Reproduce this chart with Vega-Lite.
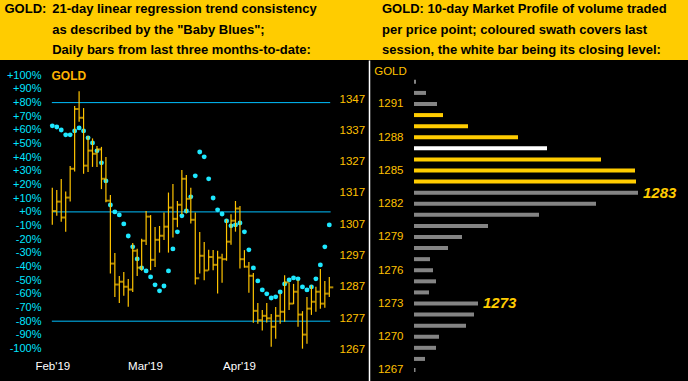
{
  "$schema": "https://vega.github.io/schema/vega-lite/v6.json",
  "width": 688,
  "height": 321,
  "autosize": {"type": "none"},
  "padding": {"top": 60, "left": 0, "right": 0, "bottom": 0},
  "background": "#FFCC00",
  "view": {"fill": "#000000", "stroke": null},
  "config": {
    "axis": {"grid": false, "domain": false, "ticks": false, "tickSize": 0, "labelFont": "Liberation Sans", "titleFont": "Liberation Sans", "labelOverlap": false, "labelFlush": false}
  },
  "datasets": {
    "levels": [
      {"level": 80, "from": -0.1, "to": 62.2},
      {"level": 0, "from": -0.1, "to": 62.3},
      {"level": -80, "from": -0.1, "to": 62.2}
    ],
    "bb": [
      {"idx": 0, "pct": 63}, {"idx": 1, "pct": 62.2}, {"idx": 2, "pct": 60}, {"idx": 3, "pct": 56.4}, {"idx": 4, "pct": 56.4},
      {"idx": 5, "pct": 59.3}, {"idx": 6, "pct": 61.5}, {"idx": 7, "pct": 59.3}, {"idx": 8, "pct": 54.2}, {"idx": 9, "pct": 50.5},
      {"idx": 10, "pct": 44.7}, {"idx": 11, "pct": 35.9}, {"idx": 12, "pct": 22.7}, {"idx": 13, "pct": 5.1}, {"idx": 14, "pct": 0},
      {"idx": 15, "pct": -2.2}, {"idx": 16, "pct": -8.8}, {"idx": 17, "pct": -17.6}, {"idx": 18, "pct": -25.6}, {"idx": 19, "pct": -34.4},
      {"idx": 20, "pct": -41}, {"idx": 21, "pct": -43.2}, {"idx": 22, "pct": -47.6}, {"idx": 23, "pct": -53.4}, {"idx": 24, "pct": -57.8},
      {"idx": 25, "pct": -54.2}, {"idx": 26, "pct": -43.2}, {"idx": 27, "pct": -27.1}, {"idx": 28, "pct": -14.6}, {"idx": 29, "pct": -2.9},
      {"idx": 30, "pct": 0.7}, {"idx": 31, "pct": 11}, {"idx": 32, "pct": 26.4}, {"idx": 33, "pct": 43.9}, {"idx": 34, "pct": 40.3},
      {"idx": 35, "pct": 24.2}, {"idx": 36, "pct": 10.2}, {"idx": 37, "pct": 1.5}, {"idx": 38, "pct": -1.5}, {"idx": 39, "pct": -6.6},
      {"idx": 40, "pct": -10.2}, {"idx": 41, "pct": -9.5}, {"idx": 42, "pct": -8.1}, {"idx": 43, "pct": -14.6}, {"idx": 44, "pct": -27.8},
      {"idx": 45, "pct": -41}, {"idx": 46, "pct": -50.5}, {"idx": 47, "pct": -57.1}, {"idx": 48, "pct": -60}, {"idx": 49, "pct": -63},
      {"idx": 50, "pct": -62.2}, {"idx": 51, "pct": -58.6}, {"idx": 52, "pct": -52.7}, {"idx": 53, "pct": -49.8}, {"idx": 54, "pct": -48.3},
      {"idx": 55, "pct": -49}, {"idx": 56, "pct": -54.9}, {"idx": 57, "pct": -57.1}, {"idx": 58, "pct": -54.9}, {"idx": 59, "pct": -49},
      {"idx": 60, "pct": -38.8}, {"idx": 61, "pct": -25.6}, {"idx": 62, "pct": -9.5}
    ],
    "ohlc": [
      {"idx": 0, "high": 1318.6, "low": 1306.8, "close": 1311.2},
      {"idx": 1, "high": 1317.9, "low": 1309.7, "close": 1314.2},
      {"idx": 2, "high": 1321.4, "low": 1307.8, "close": 1309.1},
      {"idx": 3, "high": 1317.4, "low": 1304.6, "close": 1315.5},
      {"idx": 4, "high": 1325.6, "low": 1314.2, "close": 1324.7},
      {"idx": 5, "high": 1344.8, "low": 1323.8, "close": 1343.8},
      {"idx": 6, "high": 1349.5, "low": 1339.7, "close": 1341.0},
      {"idx": 7, "high": 1344.1, "low": 1323.1, "close": 1325.7},
      {"idx": 8, "high": 1335.2, "low": 1323.7, "close": 1330.5},
      {"idx": 9, "high": 1334.4, "low": 1325.3, "close": 1329.5},
      {"idx": 10, "high": 1332.0, "low": 1325.3, "close": 1330.9},
      {"idx": 11, "high": 1331.7, "low": 1318.2, "close": 1321.5},
      {"idx": 12, "high": 1328.5, "low": 1314.0, "close": 1314.5},
      {"idx": 13, "high": 1316.3, "low": 1291.2, "close": 1294.4},
      {"idx": 14, "high": 1297.8, "low": 1283.7, "close": 1287.7},
      {"idx": 15, "high": 1290.4, "low": 1281.8, "close": 1288.6},
      {"idx": 16, "high": 1291.7, "low": 1284.1, "close": 1287.0},
      {"idx": 17, "high": 1289.5, "low": 1280.6, "close": 1286.1},
      {"idx": 18, "high": 1301.0, "low": 1285.3, "close": 1298.5},
      {"idx": 19, "high": 1299.1, "low": 1290.4, "close": 1293.1},
      {"idx": 20, "high": 1302.3, "low": 1292.1, "close": 1301.7},
      {"idx": 21, "high": 1311.2, "low": 1300.3, "close": 1309.4},
      {"idx": 22, "high": 1309.9, "low": 1292.3, "close": 1295.6},
      {"idx": 23, "high": 1306.1, "low": 1293.3, "close": 1302.0},
      {"idx": 24, "high": 1306.4, "low": 1297.9, "close": 1303.3},
      {"idx": 25, "high": 1310.7, "low": 1301.9, "close": 1306.2},
      {"idx": 26, "high": 1317.1, "low": 1297.9, "close": 1312.3},
      {"idx": 27, "high": 1319.8, "low": 1302.7, "close": 1308.7},
      {"idx": 28, "high": 1314.4, "low": 1306.0, "close": 1313.2},
      {"idx": 29, "high": 1324.3, "low": 1310.1, "close": 1321.5},
      {"idx": 30, "high": 1322.7, "low": 1310.5, "close": 1315.1},
      {"idx": 31, "high": 1318.6, "low": 1307.2, "close": 1308.4},
      {"idx": 32, "high": 1310.7, "low": 1287.7, "close": 1289.7},
      {"idx": 33, "high": 1304.5, "low": 1291.2, "close": 1296.9},
      {"idx": 34, "high": 1301.3, "low": 1289.1, "close": 1292.2},
      {"idx": 35, "high": 1298.8, "low": 1292.2, "close": 1296.5},
      {"idx": 36, "high": 1298.7, "low": 1292.3, "close": 1294.0},
      {"idx": 37, "high": 1298.5, "low": 1284.8, "close": 1296.3},
      {"idx": 38, "high": 1297.5, "low": 1288.3, "close": 1295.8},
      {"idx": 39, "high": 1308.5, "low": 1295.3, "close": 1301.4},
      {"idx": 40, "high": 1310.2, "low": 1300.4, "close": 1308.1},
      {"idx": 41, "high": 1314.4, "low": 1304.6, "close": 1312.0},
      {"idx": 42, "high": 1312.8, "low": 1292.8, "close": 1295.8},
      {"idx": 43, "high": 1298.7, "low": 1293.1, "close": 1293.4},
      {"idx": 44, "high": 1294.9, "low": 1285.1, "close": 1290.5},
      {"idx": 45, "high": 1291.4, "low": 1275.5, "close": 1279.3},
      {"idx": 46, "high": 1281.8, "low": 1275.2, "close": 1276.3},
      {"idx": 47, "high": 1279.6, "low": 1273.0, "close": 1277.7},
      {"idx": 48, "high": 1281.8, "low": 1275.6, "close": 1276.9},
      {"idx": 49, "high": 1278.3, "low": 1267.8, "close": 1274.2},
      {"idx": 50, "high": 1280.5, "low": 1270.4, "close": 1277.7},
      {"idx": 51, "high": 1284.8, "low": 1275.2, "close": 1279.0},
      {"idx": 52, "high": 1290.7, "low": 1275.8, "close": 1288.4},
      {"idx": 53, "high": 1288.3, "low": 1279.6, "close": 1281.6},
      {"idx": 54, "high": 1287.9, "low": 1281.4, "close": 1285.4},
      {"idx": 55, "high": 1289.1, "low": 1274.2, "close": 1278.1},
      {"idx": 56, "high": 1279.2, "low": 1267.2, "close": 1271.7},
      {"idx": 57, "high": 1283.7, "low": 1268.8, "close": 1280.0},
      {"idx": 58, "high": 1287.4, "low": 1278.0, "close": 1282.2},
      {"idx": 59, "high": 1287.0, "low": 1279.0, "close": 1285.4},
      {"idx": 60, "high": 1292.7, "low": 1280.0, "close": 1281.6},
      {"idx": 61, "high": 1288.8, "low": 1280.3, "close": 1284.8},
      {"idx": 62, "high": 1290.1, "low": 1283.7, "close": 1286.8}
    ],
    "profile": [
      {"price": 1293, "vol": 2, "kind": "prior"},
      {"price": 1292, "vol": 12, "kind": "prior"},
      {"price": 1291, "vol": 23, "kind": "prior"},
      {"price": 1290, "vol": 29, "kind": "session"},
      {"price": 1289, "vol": 54, "kind": "session"},
      {"price": 1288, "vol": 104, "kind": "session"},
      {"price": 1287, "vol": 133, "kind": "close"},
      {"price": 1286, "vol": 187, "kind": "session"},
      {"price": 1285, "vol": 221, "kind": "session"},
      {"price": 1284, "vol": 222, "kind": "session"},
      {"price": 1283, "vol": 224, "kind": "prior"},
      {"price": 1282, "vol": 182, "kind": "prior"},
      {"price": 1281, "vol": 125, "kind": "prior"},
      {"price": 1280, "vol": 74, "kind": "prior"},
      {"price": 1279, "vol": 48, "kind": "prior"},
      {"price": 1278, "vol": 34, "kind": "prior"},
      {"price": 1277, "vol": 16, "kind": "prior"},
      {"price": 1276, "vol": 19, "kind": "prior"},
      {"price": 1275, "vol": 22, "kind": "prior"},
      {"price": 1274, "vol": 15, "kind": "prior"},
      {"price": 1273, "vol": 64, "kind": "prior"},
      {"price": 1272, "vol": 60, "kind": "prior"},
      {"price": 1271, "vol": 52, "kind": "prior"},
      {"price": 1270, "vol": 25, "kind": "prior"},
      {"price": 1269, "vol": 22, "kind": "prior"},
      {"price": 1268, "vol": 11, "kind": "prior"},
      {"price": 1267, "vol": 1.5, "kind": "prior"}
    ],
    "notes": [
      {"price": 1283, "vol": 224, "label": "1283"},
      {"price": 1273, "vol": 64, "label": "1273"}
    ]
  },
  "layer": [
    {
      "data": {"name": "levels"},
      "mark": {"type": "rule", "color": "#00BFFF", "strokeWidth": 1},
      "encoding": {
        "x": {"field": "from", "type": "quantitative", "scale": {"domain": [0, 62], "range": [52.3, 329.3], "nice": false, "zero": false},
          "axis": {"orient": "top", "labels": false, "title": "GOLD:", "titleX": 4, "titleY": -47.3, "titleAngle": 0, "titleAlign": "left", "titleBaseline": "alphabetic", "titleFontSize": 13, "titleFontWeight": "bold", "titleColor": "#000000"}},
        "x2": {"field": "to"},
        "y": {"field": "level", "type": "quantitative", "scale": {"domain": [-100, 100], "range": [288.5, 15.3], "nice": false, "zero": false}, "axis": null}
      }
    },
    {
      "data": {"name": "bb"},
      "mark": {"type": "circle", "color": "#1EE8FF", "size": 24, "opacity": 1},
      "encoding": {
        "x": {"field": "idx", "type": "quantitative", "scale": {"domain": [0, 62], "range": [52.3, 329.3], "nice": false, "zero": false},
          "axis": {"orient": "bottom", "offset": -21, "values": [0, 20.75, 41.8], "labelExpr": "datum.value < 10 ? \"Feb'19\" : datum.value < 30 ? \"Mar'19\" : \"Apr'19\"", "labelColor": "#FFFFFF", "labelFontSize": 11.5, "labelPadding": 0, "labelBaseline": "top", "title": null}},
        "y": {"field": "pct", "type": "quantitative", "scale": {"domain": [-100, 100], "range": [288.5, 15.3], "nice": false, "zero": false},
          "axis": {"orient": "left", "offset": -41, "values": [-100, -90, -80, -70, -60, -50, -40, -30, -20, -10, 0, 10, 20, 30, 40, 50, 60, 70, 80, 90, 100], "labelExpr": "(datum.value >= 0 ? '+' : '') + datum.value + '%'", "labelColor": "#00E5FF", "labelFontSize": 11, "labelPadding": 0, "labelBaseline": "middle",
            "title": "GOLD", "titleX": 10, "titleY": 15.7, "titleAngle": 0, "titleAlign": "left", "titleBaseline": "middle", "titleColor": "#FFB400", "titleFontSize": 12, "titleFontWeight": "bold"}}
      }
    },
    {
      "data": {"name": "ohlc"},
      "mark": {"type": "rule", "color": "#FFC400", "strokeWidth": 1.2},
      "encoding": {
        "x": {"field": "idx", "type": "quantitative", "scale": {"domain": [0, 62], "range": [52.3, 329.3], "nice": false, "zero": false},
          "axis": {"orient": "top", "labels": false, "title": ["21-day linear regression trend consistency", "as described by the \"Baby Blues\";", "Daily bars from last three months-to-date:"], "titleX": 51.7, "titleY": -47.3, "titleAngle": 0, "titleAlign": "left", "titleBaseline": "alphabetic", "titleLineHeight": 20.6, "titleFontSize": 13, "titleFontWeight": "bold", "titleColor": "#000000"}},
        "y": {"field": "high", "type": "quantitative", "scale": {"domain": [1267, 1347], "range": [289.3, 39], "nice": false, "zero": false},
          "axis": {"orient": "right", "offset": -351, "values": [1267, 1277, 1287, 1297, 1307, 1317, 1327, 1337, 1347], "format": "d", "labelColor": "#FFC000", "labelFontSize": 11.5, "labelPadding": 2, "labelBaseline": "middle", "title": null}},
        "y2": {"field": "low"}
      }
    },
    {
      "data": {"name": "ohlc"},
      "mark": {"type": "tick", "orient": "horizontal", "color": "#FFC400", "size": 4, "thickness": 2, "xOffset": 2},
      "encoding": {
        "x": {"field": "idx", "type": "quantitative", "scale": {"domain": [0, 62], "range": [52.3, 329.3], "nice": false, "zero": false}, "axis": null},
        "y": {"field": "close", "type": "quantitative", "scale": {"domain": [1267, 1347], "range": [289.3, 39], "nice": false, "zero": false}, "axis": null}
      }
    },
    {
      "data": {"name": "profile"},
      "mark": {"type": "rule", "strokeWidth": 4, "strokeCap": "butt"},
      "encoding": {
        "x": {"field": "vol", "type": "quantitative", "scale": {"domain": [0, 224], "range": [414, 638], "nice": false, "zero": false},
          "axis": {"orient": "top", "labels": false, "title": ["GOLD:  10-day Market Profile of volume traded", "per price point; coloured swath covers last", "session, the white bar being its closing level:"], "titleX": 381.5, "titleY": -47.3, "titleAngle": 0, "titleAlign": "left", "titleBaseline": "alphabetic", "titleLineHeight": 20.6, "titleFontSize": 13, "titleFontWeight": "bold", "titleColor": "#000000"}},
        "x2": {"datum": 0},
        "y": {"field": "price", "type": "quantitative", "scale": {"domain": [1266.007, 1294.97], "range": [321, 0], "nice": false, "zero": false},
          "axis": {"orient": "right", "offset": -319, "domain": true, "domainColor": "#FFFFFF", "domainWidth": 1.5, "values": [1267, 1270, 1273, 1276, 1279, 1282, 1285, 1288, 1291], "format": "d", "labelAlign": "right", "labelPadding": 34, "labelColor": "#FFC000", "labelFontSize": 11.5, "labelBaseline": "middle",
            "title": "GOLD", "titleX": 21, "titleY": 11, "titleAngle": 0, "titleAlign": "center", "titleBaseline": "middle", "titleColor": "#FFC000", "titleFontSize": 11.5, "titleFontWeight": "normal"}},
        "color": {"field": "kind", "type": "nominal", "scale": {"domain": ["prior", "session", "close"], "range": ["#848484", "#FFCC00", "#FFFFFF"]}, "legend": null}
      }
    },
    {
      "data": {"name": "notes"},
      "mark": {"type": "text", "align": "left", "baseline": "middle", "dx": 5, "font": "Liberation Sans", "fontSize": 15, "fontWeight": "bold", "fontStyle": "italic", "color": "#FFCC00"},
      "encoding": {
        "x": {"field": "vol", "type": "quantitative", "scale": {"domain": [0, 224], "range": [414, 638], "nice": false, "zero": false}, "axis": null},
        "y": {"field": "price", "type": "quantitative", "scale": {"domain": [1266.007, 1294.97], "range": [321, 0], "nice": false, "zero": false}, "axis": null},
        "text": {"field": "label"}
      }
    }
  ],
  "resolve": {
    "scale": {"x": "independent", "y": "independent", "color": "independent"},
    "axis": {"x": "independent", "y": "independent"}
  }
}
